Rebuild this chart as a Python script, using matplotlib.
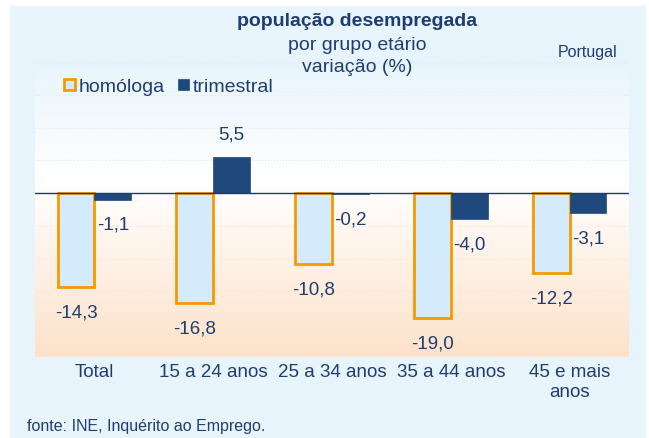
import numpy as np
import matplotlib
matplotlib.use('Agg')
from matplotlib import pyplot as plt
from matplotlib.colors import LinearSegmentedColormap
from matplotlib.patches import Rectangle

plt.rcParams['font.family'] = ['Liberation Sans', 'DejaVu Sans']

# dados
categorias = ['Total', '15 a 24 anos', '25 a 34 anos', '35 a 44 anos', '45 e mais\nanos']
homologa = [-14.3, -16.8, -10.8, -19.0, -12.2]
trimestral = [-1.1, 5.5, -0.2, -4.0, -3.1]

azul_txt = '#1f3d6e'
azul_bar = '#1f497d'
laranja = '#f79a00'
azul_claro = '#d3ebfb'

fig = plt.figure(figsize=(6.49, 4.38), dpi=100)
fig.patch.set_facecolor('white')
# fundo azul claro do quadro
fig.patches.append(Rectangle((10 / 649, 0), 636 / 649, 1 - 6 / 438, transform=fig.transFigure,
                             facecolor='#e8f4fc', edgecolor='none', zorder=-10))

ax = fig.add_axes([35 / 649, 1 - 357 / 438, 594 / 649, 295 / 438])
ax.set_xlim(-0.5, 4.5)
ax.set_ylim(-25, 20)

# gradiente do fundo
cmap = LinearSegmentedColormap.from_list('g', [(0, '#fde2ca'), (0.45, '#fff8f2'), (0.6, '#ffffff'), (1, '#e8f4fc')])
grad = np.linspace(0, 1, 256).reshape(-1, 1)
ax.imshow(grad, extent=(-0.5, 4.5, -25, 20), origin='lower', aspect='auto', cmap=cmap, zorder=0)

for g in range(-20, 21, 5):
    if g != 0:
        ax.axhline(g, color='#f3e6dc' if g < 0 else '#e0e8ee', lw=0.8, ls=':', zorder=1)

x = np.arange(len(categorias))
w = 0.31
ax.bar(x - w / 2, homologa, w, color=azul_claro, edgecolor=laranja, linewidth=2, zorder=3, label='homóloga')
ax.bar(x + w / 2, trimestral, w, color=azul_bar, edgecolor=azul_bar, linewidth=0.5, zorder=3, label='trimestral')
ax.axhline(0, color='#1f3864', lw=1, zorder=4)

def fmt(v):
    return ('%.1f' % v).replace('.', ',')

for i, v in enumerate(homologa):
    ax.annotate(fmt(v), (x[i] - w / 2, v), xytext=(0, -12.5), textcoords='offset points',
                ha='center', va='top', fontsize=13.5, color=azul_txt)
for i, v in enumerate(trimestral):
    off = 10 if v > 0 else -12
    ax.annotate(fmt(v), (x[i] + w / 2, v), xytext=(0, off), textcoords='offset points',
                ha='center', va='bottom' if v > 0 else 'top', fontsize=13.5, color=azul_txt)

ax.set_xticks(x)
ax.set_xticklabels(categorias, fontsize=13.5, color=azul_txt, linespacing=1.2)
ax.tick_params(axis='x', length=0, pad=5)
ax.set_yticks([])
for s in ax.spines.values():
    s.set_visible(False)

# títulos
fig.text(357 / 649, 1 - 22 / 438, 'população desempregada', ha='center', va='center',
         fontsize=14, fontweight='bold', color=azul_txt)
fig.text(357 / 649, 1 - 46 / 438, 'por grupo etário', ha='center', va='center', fontsize=14, color=azul_txt)
fig.text(357 / 649, 1 - 68 / 438, 'variação (%)', ha='center', va='center', fontsize=14, color=azul_txt)
fig.text(617 / 649, 1 - 53 / 438, 'Portugal', ha='right', va='center', fontsize=11.5, color=azul_txt)
fig.text(27 / 649, 1 - 426 / 438, 'fonte: INE, Inquérito ao Emprego.', ha='left', va='center',
         fontsize=11.5, color=azul_txt)

leg = fig.legend(loc='center left', bbox_to_anchor=(64 / 649, 1 - 87 / 438), ncol=2, frameon=False,
                 fontsize=14, handlelength=0.55, handleheight=0.55, handletextpad=0.2, columnspacing=0.7,
                 borderpad=0, borderaxespad=0)
for t in leg.get_texts():
    t.set_color(azul_txt)

fig.savefig('out.png', dpi=100)
